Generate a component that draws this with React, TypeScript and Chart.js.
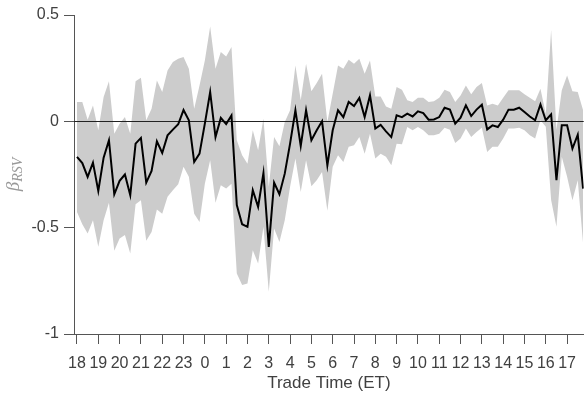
import { useEffect, useRef } from 'react';
import { Chart, registerables } from 'chart.js';

Chart.register(...registerables);

// Hour tick labels (ET), trading day from 18:00 to 17:xx
const hourLabels = ['18', '19', '20', '21', '22', '23', '0', '1', '2', '3', '4', '5', '6', '7', '8', '9', '10', '11', '12', '13', '14', '15', '16', '17'];
const hourTicks = hourLabels.map((_, i) => i);
// 15-minute slots, expressed in hours after 18:00 ET
const slotHours = Array.from({ length: 96 }, (_, i) => i / 4);

const yTickValues = [-1, -0.5, 0, 0.5];
const yTickLabels = ['-1', '-0.5', '0', '0.5'];

const betaMean = [
  -0.167, -0.196, -0.261, -0.194, -0.327, -0.171, -0.089, -0.343, -0.280, -0.250, -0.347, -0.105,
  -0.078, -0.288, -0.233, -0.094, -0.149, -0.066, -0.039, -0.014, 0.053, 0.005, -0.191, -0.152,
  -0.011, 0.138, -0.074, 0.016, -0.013, 0.028, -0.394, -0.484, -0.496, -0.324, -0.402, -0.243,
  -0.590, -0.288, -0.343, -0.246, -0.105, 0.052, -0.116, 0.052, -0.089, -0.042, 0.000, -0.207,
  -0.042, 0.052, 0.020, 0.091, 0.072, 0.110, 0.020, 0.122, -0.034, -0.017, -0.047, -0.074,
  0.028, 0.020, 0.036, 0.023, 0.047, 0.039, 0.008, 0.009, 0.020, 0.064, 0.055, -0.011,
  0.017, 0.075, 0.025, 0.055, 0.078, -0.038, -0.019, -0.027, 0.008, 0.055, 0.055, 0.064,
  0.044, 0.023, 0.005, 0.080, 0.005, 0.033, -0.277, -0.019, -0.019, -0.128, -0.063, -0.316,
];

const ciUpper = [
  0.091, 0.091, 0.008, 0.075, -0.042, 0.114, 0.189, -0.058, -0.011, 0.020, -0.058, 0.189,
  0.205, 0.005, 0.059, 0.192, 0.138, 0.239, 0.279, 0.294, 0.302, 0.247, 0.059, 0.169,
  0.286, 0.446, 0.247, 0.326, 0.305, 0.349, -0.089, -0.160, -0.199, -0.042, -0.136, 0.013,
  -0.308, -0.074, -0.117, -0.003, 0.052, 0.263, 0.099, 0.271, 0.142, 0.180, 0.224, -0.003,
  0.130, 0.263, 0.247, 0.290, 0.271, 0.294, 0.224, 0.286, 0.117, 0.117, 0.070, 0.059,
  0.161, 0.149, 0.099, 0.091, 0.111, 0.111, 0.091, 0.095, 0.111, 0.149, 0.138, 0.091,
  0.122, 0.169, 0.127, 0.161, 0.180, 0.075, 0.083, 0.075, 0.111, 0.146, 0.146, 0.146,
  0.127, 0.111, 0.094, 0.153, 0.035, 0.430, -0.040, 0.146, 0.216, 0.142, 0.138, 0.052,
];

const ciLower = [
  -0.426, -0.484, -0.527, -0.465, -0.590, -0.465, -0.383, -0.609, -0.551, -0.535, -0.621, -0.390,
  -0.371, -0.562, -0.520, -0.415, -0.434, -0.355, -0.324, -0.296, -0.214, -0.261, -0.434, -0.473,
  -0.293, -0.183, -0.383, -0.300, -0.316, -0.293, -0.715, -0.770, -0.762, -0.606, -0.668, -0.496,
  -0.801, -0.504, -0.567, -0.465, -0.308, -0.175, -0.332, -0.183, -0.305, -0.277, -0.238, -0.421,
  -0.214, -0.160, -0.191, -0.120, -0.113, -0.074, -0.152, -0.058, -0.175, -0.152, -0.167, -0.207,
  -0.105, -0.108, -0.027, -0.042, -0.027, -0.042, -0.066, -0.066, -0.058, -0.030, -0.039, -0.102,
  -0.081, -0.034, -0.074, -0.050, -0.030, -0.144, -0.120, -0.120, -0.081, -0.034, -0.034, -0.030,
  -0.042, -0.066, -0.081, 0.005, -0.025, -0.370, -0.496, -0.167, -0.261, -0.371, -0.277, -0.574,
];

const AXIS_COLOR = '#555555';
const TEXT_COLOR = '#404040';
const FONT = '"Liberation Sans", Arial, Helvetica, sans-serif';

export default function App() {
  const ref = useRef<HTMLCanvasElement | null>(null);

  useEffect(() => {
    document.body.style.margin = '0';
    const canvas = ref.current;
    if (!canvas) return;

    const zeroLine = {
      id: 'zeroLine',
      afterDatasetDraw(chart: any, args: any) {
        if (args.index !== 1) return;
        const { ctx, chartArea } = chart;
        const y = Math.round(chart.scales.y.getPixelForValue(0)) + 0.5;
        ctx.save();
        ctx.strokeStyle = '#222222';
        ctx.lineWidth = 1;
        ctx.beginPath();
        ctx.moveTo(chartArea.left, y);
        ctx.lineTo(chartArea.right, y);
        ctx.stroke();
        ctx.restore();
      },
    };

    const yTitle = {
      id: 'yTitle',
      afterDraw(chart: any) {
        const { ctx, chartArea } = chart;
        const cy = (chartArea.top + chartArea.bottom) / 2;
        ctx.save();
        ctx.translate(15, cy);
        ctx.rotate(-Math.PI / 2);
        ctx.fillStyle = '#999999';
        ctx.textBaseline = 'alphabetic';
        const mainFont = 'italic 19px "Liberation Serif", "Times New Roman", serif';
        const subFont = 'italic 14px "Liberation Serif", "Times New Roman", serif';
        ctx.font = mainFont;
        const wMain = ctx.measureText('β').width;
        ctx.font = subFont;
        const wSub = ctx.measureText('RSV').width;
        const x0 = -(wMain + wSub) / 2;
        ctx.font = mainFont;
        ctx.fillText('β', x0, 4);
        ctx.font = subFont;
        ctx.fillText('RSV', x0 + wMain, 7);
        ctx.restore();
      },
    };

    const chart = new Chart(canvas, {
      type: 'line',
      data: {
        datasets: [
          {
            label: 'β',
            data: slotHours.map((x, i) => ({ x, y: betaMean[i] })),
            borderColor: '#000000',
            borderWidth: 2,
            pointRadius: 0,
            fill: false,
            tension: 0,
            order: 0,
          },
          {
            label: 'upper',
            data: slotHours.map((x, i) => ({ x, y: ciUpper[i] })),
            borderWidth: 0,
            borderColor: 'rgba(0,0,0,0)',
            backgroundColor: '#cccccc',
            pointRadius: 0,
            fill: '+1',
            tension: 0,
            order: 1,
          },
          {
            label: 'lower',
            data: slotHours.map((x, i) => ({ x, y: ciLower[i] })),
            borderWidth: 0,
            borderColor: 'rgba(0,0,0,0)',
            pointRadius: 0,
            fill: false,
            tension: 0,
            order: 1,
          },
        ],
      },
      options: {
        animation: false,
        responsive: true,
        maintainAspectRatio: false,
        layout: { padding: { top: 15, right: 0, left: 0, bottom: 0 } },
        plugins: {
          legend: { display: false },
          tooltip: { enabled: false },
        },
        scales: {
          x: {
            type: 'linear',
            position: 'bottom',
            min: -0.14,
            max: 23.78,
            afterBuildTicks: (s: any) => {
              s.ticks = hourTicks.map((v) => ({ value: v }));
            },
            afterFit: (s: any) => {
              s.height = 64;
            },
            ticks: {
              autoSkip: false,
              maxRotation: 0,
              padding: 10,
              color: TEXT_COLOR,
              font: { family: FONT, size: 16 },
              callback: (v: any) => hourLabels[v as number] ?? '',
            },
            grid: {
              drawOnChartArea: false,
              drawTicks: true,
              tickLength: 10,
              color: AXIS_COLOR,
            },
            border: { display: true, color: AXIS_COLOR, width: 1 },
            title: {
              display: true,
              text: 'Trade Time (ET)',
              color: TEXT_COLOR,
              font: { family: FONT, size: 17 },
              padding: { top: 0, bottom: 4 },
            },
          },
          y: {
            type: 'linear',
            min: -1,
            max: 0.5,
            afterBuildTicks: (s: any) => {
              s.ticks = yTickValues.map((v) => ({ value: v }));
            },
            afterFit: (s: any) => {
              s.width = 74;
            },
            ticks: {
              padding: 5,
              color: TEXT_COLOR,
              font: { family: FONT, size: 16 },
              callback: (v: any) => yTickLabels[yTickValues.indexOf(v as number)] ?? '',
            },
            grid: {
              drawOnChartArea: false,
              drawTicks: true,
              tickLength: 10,
              color: AXIS_COLOR,
            },
            border: { display: true, color: AXIS_COLOR, width: 1 },
          },
        },
      },
      plugins: [zeroLine, yTitle],
    });

    return () => chart.destroy();
  }, []);

  return (
    <div style={{ position: 'relative', width: 586, height: 398 }}>
      <canvas ref={ref} />
    </div>
  );
}
